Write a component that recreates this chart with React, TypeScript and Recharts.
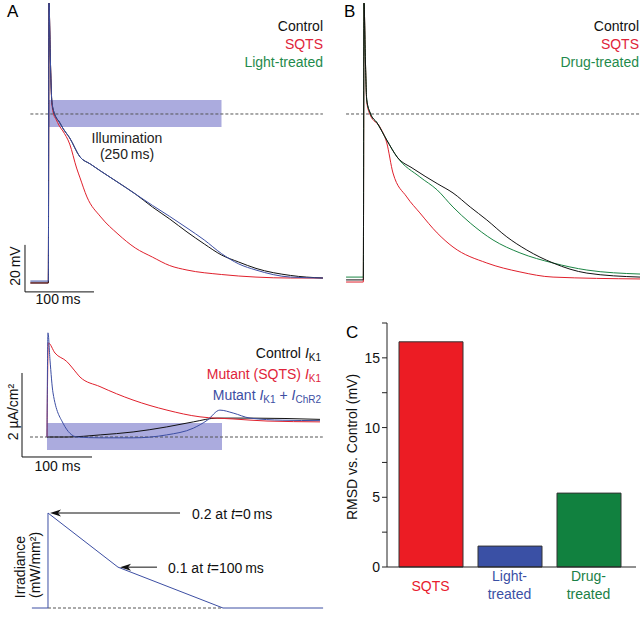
import React from "react";
import {
  Bar,
  BarChart,
  Cell,
  Line,
  LineChart,
  ReferenceArea,
  ReferenceLine,
  XAxis,
  YAxis,
} from "recharts";

const FONT = '"Liberation Sans", Arial, Helvetica, sans-serif';

const RED = "#e0202c";
const BLUE = "#3c4ea3";
const GREEN = "#1b8544";
const DASH = "#555";

// Panel A: action potentials (mV) against time (ms)
const tA = [-27, -1, 0, 2, 4, 7, 10, 15, 20, 30, 45, 60, 75, 100, 125, 150, 175, 200, 225, 250, 275, 300, 350, 397];
const controlA = [-71.9, -71.9, 47.2, 23, 6, 0.9, -1.3, -3.4, -6, -10.2, -18.3, -21.3, -24.3, -29.1, -34, -39.6, -44.7, -50.2, -55.3, -60, -63, -65.7, -68.7, -69.8];
const lightA = [-71.1, -71.1, 47.2, 23, 6, 0.9, -1.3, -3.4, -6, -10.2, -18.3, -21.3, -24.3, -29.1, -34, -38.9, -43.6, -48.5, -53.6, -59.4, -63.8, -66.4, -69.4, -69.8];
const tSqtsA = [-27, -1, 0, 2, 4, 7, 10, 15, 20, 30, 40, 45, 55, 75, 100, 125, 150, 175, 200, 250, 300, 350, 397];
const sqtsA = [-71.9, -71.9, 47.2, 23, 5, -0.4, -2.1, -5.1, -7.2, -12.8, -23, -27.2, -35.3, -43.8, -51.1, -57, -60.9, -64.5, -66.4, -68.3, -69.4, -69.8, -69.8];

// Panel B
const tControlB = [-26, -1, 0, 2, 4, 9, 19, 33, 48, 71, 106, 129, 154, 178, 207, 236, 274, 323, 400];
const controlB = [-70.6, -70.6, 47.2, 23, 6, 0.4, -3.8, -11.1, -18.3, -23.2, -29.6, -33.6, -39.6, -45.1, -52.3, -57.9, -63.4, -67.7, -69.4];
const tDrugB = [-26, -1, 0, 2, 4, 9, 19, 33, 48, 81, 106, 129, 154, 187, 226, 274, 323, 400];
const drugB = [-69.4, -69.4, 47.2, 23, 6, 0.4, -3.8, -11.1, -18.3, -26.8, -32.3, -39.6, -46.4, -53.6, -59.1, -63.4, -66.4, -68.1];
const tSqtsB = [-26, -1, 0, 2, 4, 9, 23, 33, 42, 62, 81, 106, 129, 178, 226, 274, 400];
const sqtsB = [-71.5, -71.5, 47.2, 23, 5, -0.4, -5.5, -12.3, -25.1, -35.3, -42.1, -50.6, -56.6, -63.4, -67.2, -69.4, -70.2];

// Middle: I_K1 currents (uA/cm2)
const tIkControl = [0, 29, 76, 123, 171, 209, 243, 290, 390];
const ikControl = [0, 0, 0.05, 0.12, 0.24, 0.36, 0.45, 0.45, 0.42];
const tIkMutant = [0, 1.9, 11.4, 28.1, 42.4, 47, 75.7, 122.9, 171.4, 218.6, 265.7, 314.3, 390];
const ikMutant = [0, 2.24, 2.0, 1.8, 1.52, 1.43, 1.2, 0.88, 0.64, 0.48, 0.43, 0.38, 0.36];
const tIkChr2 = [0, 1.4, 4.3, 8.6, 22.9, 42.9, 76, 123, 171, 209, 229, 247, 266, 290, 337, 390];
const ikChr2 = [0, 2.48, 1.83, 1.05, 0.33, 0, -0.02, -0.02, 0.05, 0.21, 0.4, 0.64, 0.57, 0.45, 0.4, 0.39];

// Bottom: irradiance (mW/mm2)
const tIrr = [-23, 0, 0, 100, 250, 393];
const irradiance = [0, 0, 0.2, 0.086, 0, 0];

// Panel C
const rmsdCategories = ["SQTS", "Light-treated", "Drug-treated"];
const rmsdValues = [16.15, 1.5, 5.3];
const rmsdColors = ["#ec1c24", "#3a50a5", "#11813f"];
const rmsdTextColors = ["#e8202e", "#3a50a5", "#1a8046"];
const rmsdTicks = [0, 2.5, 5, 7.5, 10, 12.5, 15, 17.5];

const illumination = [0, 250];

const zip = (ts: number[], vs: number[]) => ts.map((t, i) => ({ t, v: vs[i] }));

const rmsdData = rmsdCategories.map((name, i) => ({ name, value: rmsdValues[i] }));

type Dom = [number, number];

function Arrow(props: any) {
  const { x1, y1, x2, y2 } = props;
  const dx = x2 - x1;
  const dy = y2 - y1;
  const len = Math.hypot(dx, dy) || 1;
  const ux = dx / len;
  const uy = dy / len;
  const hl = 11;
  const hw = 3.5;
  const bx = x2 - ux * hl;
  const by = y2 - uy * hl;
  return (
    <g>
      <line x1={x1} y1={y1} x2={bx + ux * 3} y2={by + uy * 3} stroke="#111" strokeWidth={1} />
      <polygon
        points={`${x2},${y2} ${bx - uy * hw},${by + ux * hw} ${bx + ux * 3},${by + uy * 3} ${bx + uy * hw},${by - ux * hw}`}
        fill="#111"
      />
    </g>
  );
}

function line(data: { t: number; v: number }[], color: string, key: string, type: "monotone" | "linear" = "monotone") {
  return (
    <Line
      key={key}
      data={data}
      dataKey="v"
      type={type}
      stroke={color}
      strokeWidth={1}
      dot={false}
      activeDot={false}
      isAnimationActive={false}
    />
  );
}

function Panel(props: {
  left: number;
  top: number;
  width: number;
  height: number;
  xDomain: Dom;
  yDomain: Dom;
  children: React.ReactNode;
}) {
  const { left, top, width, height, xDomain, yDomain, children } = props;
  return (
    <div style={{ position: "absolute", left, top }}>
      <LineChart width={width} height={height} margin={{ top: 0, right: 0, bottom: 0, left: 0 }}>
        <XAxis type="number" dataKey="t" domain={xDomain} allowDataOverflow hide height={0} />
        <YAxis type="number" domain={yDomain} allowDataOverflow hide width={0} />
        {children}
      </LineChart>
    </div>
  );
}

function CategoryTick(props: any) {
  const { x, y, payload, index } = props;
  const value: string = payload.value;
  const parts = value.includes("-") ? [value.split("-")[0] + "-", value.split("-")[1]] : [value];
  const color = rmsdTextColors[index] ?? "#111";
  if (parts.length === 1) {
    return (
      <text x={x} y={y + 24} textAnchor="middle" fill={color} fontSize={14} fontFamily={FONT}>
        {parts[0]}
      </text>
    );
  }
  return (
    <text x={x} y={y + 14} textAnchor="middle" fill={color} fontSize={14} fontFamily={FONT}>
      <tspan x={x}>{parts[0]}</tspan>
      <tspan x={x} dy={18}>
        {parts[1]}
      </tspan>
    </text>
  );
}

export default function App() {
  const yA: Dom = [-79.15, 48.51];
  return (
    <div
      style={{
        position: "absolute",
        left: 0,
        top: 0,
        width: 640,
        height: 619,
        background: "#fff",
        fontFamily: FONT,
        overflow: "hidden",
      }}
    >
      {/* A */}
      <Panel left={0} top={0} width={330} height={300} xDomain={[-71.01, 407.25]} yDomain={yA}>
        <ReferenceArea x1={illumination[0]} x2={illumination[1]} y1={-5.5} y2={6} fill="#6e6ec6" fillOpacity={0.58} stroke="none" />
        <ReferenceLine segment={[{ x: -27, y: 0 }, { x: 397, y: 0 }]} stroke={DASH} strokeDasharray="3 2" />
        <ReferenceLine segment={[{ x: -34.8, y: -55.7 }, { x: -34.8, y: -75.7 }]} stroke="#111" />
        <ReferenceLine segment={[{ x: -34.8, y: -75.7 }, { x: 65.2, y: -75.7 }]} stroke="#111" />
        {line(zip(tSqtsA, sqtsA), RED, "sqtsA")}
        {line(zip(tA, controlA), "#111", "controlA")}
        {line(zip(tA, lightA), BLUE, "lightA")}
      </Panel>

      {/* B */}
      <Panel left={320} top={0} width={320} height={300} xDomain={[-63.77, 400]} yDomain={yA}>
        <ReferenceLine segment={[{ x: -26, y: 0 }, { x: 400, y: 0 }]} stroke={DASH} strokeDasharray="3 2" />
        {line(zip(tSqtsB, sqtsB), RED, "sqtsB")}
        {line(zip(tDrugB, drugB), GREEN, "drugB")}
        {line(zip(tControlB, controlB), "#111", "controlB")}
      </Panel>

      {/* currents */}
      <Panel left={0} top={300} width={330} height={170} xDomain={[-67.14, 404.29]} yDomain={[-0.7857, 3.262]}>
        <ReferenceArea x1={illumination[0]} x2={illumination[1]} y1={-0.31} y2={0.333} fill="#6e6ec6" fillOpacity={0.58} stroke="none" />
        <ReferenceLine segment={[{ x: -24.3, y: 0 }, { x: 394, y: 0 }]} stroke={DASH} strokeDasharray="3 2" />
        <ReferenceLine segment={[{ x: -35.7, y: 1.524 }, { x: -35.7, y: -0.476 }]} stroke="#111" />
        <ReferenceLine segment={[{ x: -35.7, y: -0.476 }, { x: 64.3, y: -0.476 }]} stroke="#111" />
        {line(zip(tIkControl, ikControl), "#111", "ikc")}
        {line(zip(tIkMutant, ikMutant), RED, "ikm")}
        {line(zip(tIkChr2, ikChr2), BLUE, "ikb")}
      </Panel>

      {/* irradiance */}
      <Panel left={0} top={470} width={330} height={149} xDomain={[-68.57, 402.86]} yDomain={[-0.023158, 0.29053]}>
        <ReferenceLine segment={[{ x: 0, y: 0 }, { x: 250, y: 0 }]} stroke={DASH} strokeDasharray="3 2" />
        {line(zip(tIrr, irradiance), BLUE, "irr", "linear")}
        <ReferenceLine segment={[{ x: 188.6, y: 0.2 }, { x: 2.9, y: 0.2 }]} shape={Arrow} />
        <ReferenceLine segment={[{ x: 155.7, y: 0.086 }, { x: 102.9, y: 0.086 }]} shape={Arrow} />
      </Panel>

      {/* C */}
      <div style={{ position: "absolute", left: 330, top: 320 }}>
        <BarChart width={310} height={299} data={rmsdData} margin={{ top: 3, right: 4, bottom: 0, left: 0 }}>
          <XAxis
            dataKey="name"
            height={52}
            padding={{ left: 4, right: 8 }}
            tickLine={false}
            tickSize={0}
            tickMargin={0}
            interval={0}
            stroke="#222"
            tick={<CategoryTick />}
          />
          <YAxis
            width={57}
            domain={[0, 17.5]}
            ticks={rmsdTicks}
            interval={0}
            tickSize={5}
            tickMargin={2}
            stroke="#222"
            tick={{ fill: "#111", fontSize: 14, fontFamily: FONT }}
            tickFormatter={(v: number) => (v % 5 === 0 ? String(v) : "")}
          />
          <Bar dataKey="value" barSize={64} stroke="#333" strokeWidth={1} isAnimationActive={false}>
            {rmsdData.map((d, i) => (
              <Cell key={d.name} fill={rmsdColors[i]} />
            ))}
          </Bar>
        </BarChart>
      </div>

      <svg
        width={640}
        height={619}
        style={{ position: "absolute", left: 0, top: 0, pointerEvents: "none" }}
        fontFamily={FONT}
        fontSize={14}
      >
        <text x={7} y={17} fontSize={17}>A</text>
        <text x={344} y={16.5} fontSize={17}>B</text>
        <text x={346} y={338} fontSize={17}>C</text>

        <text x={323} y={30.5} textAnchor="end" fill="#111">Control</text>
        <text x={323} y={48.5} textAnchor="end" fill="#e0243a">SQTS</text>
        <text x={323} y={66.5} textAnchor="end" fill="#1f8a4c">Light-treated</text>

        <text x={639} y={30.5} textAnchor="end" fill="#111">Control</text>
        <text x={639} y={48.5} textAnchor="end" fill="#e0243a">SQTS</text>
        <text x={639} y={66.5} textAnchor="end" fill="#1f8a4c">Drug-treated</text>

        <text x={127} y={143} textAnchor="middle" fill="#222">Illumination</text>
        <text x={127} y={159} textAnchor="middle" fill="#222">(250{"\u2009"}ms)</text>

        <text transform="translate(20,266) rotate(-90)" textAnchor="middle" fill="#111">20{"\u2009"}mV</text>
        <text x={58} y={304} textAnchor="middle" fill="#111">100{"\u2009"}ms</text>

        <text x={321} y={357.5} textAnchor="end" fill="#111">
          Control <tspan fontStyle="italic">I</tspan>
          <tspan fontSize={10} dy={3}>K1</tspan>
        </text>
        <text x={321} y={378.5} textAnchor="end" fill="#e0243a">
          Mutant (SQTS) <tspan fontStyle="italic">I</tspan>
          <tspan fontSize={10} dy={3}>K1</tspan>
        </text>
        <text x={321} y={399.5} textAnchor="end" fill={BLUE}>
          Mutant <tspan fontStyle="italic">I</tspan>
          <tspan fontSize={10} dy={3}>K1</tspan>
          <tspan dy={-3}> + </tspan>
          <tspan fontStyle="italic">I</tspan>
          <tspan fontSize={10} dy={3}>ChR2</tspan>
        </text>

        <text transform="translate(18,412) rotate(-90)" textAnchor="middle" fill="#111">2 µA/cm²</text>
        <text x={57.5} y={471} textAnchor="middle" fill="#111">100 ms</text>

        <text x={192} y={519} fill="#111">
          0.2 at <tspan fontStyle="italic">t</tspan>={"0\u2009ms"}
        </text>
        <text x={168} y={573} fill="#111">
          0.1 at <tspan fontStyle="italic">t</tspan>={"100\u2009ms"}
        </text>
        <text transform="translate(25,567) rotate(-90)" textAnchor="middle" fill="#111">Irradiance</text>
        <text transform="translate(40,565) rotate(-90)" textAnchor="middle" fill="#111">(mW/mm²)</text>

        <text transform="translate(357,447) rotate(-90)" textAnchor="middle" fill="#111">RMSD vs. Control (mV)</text>
      </svg>
    </div>
  );
}
